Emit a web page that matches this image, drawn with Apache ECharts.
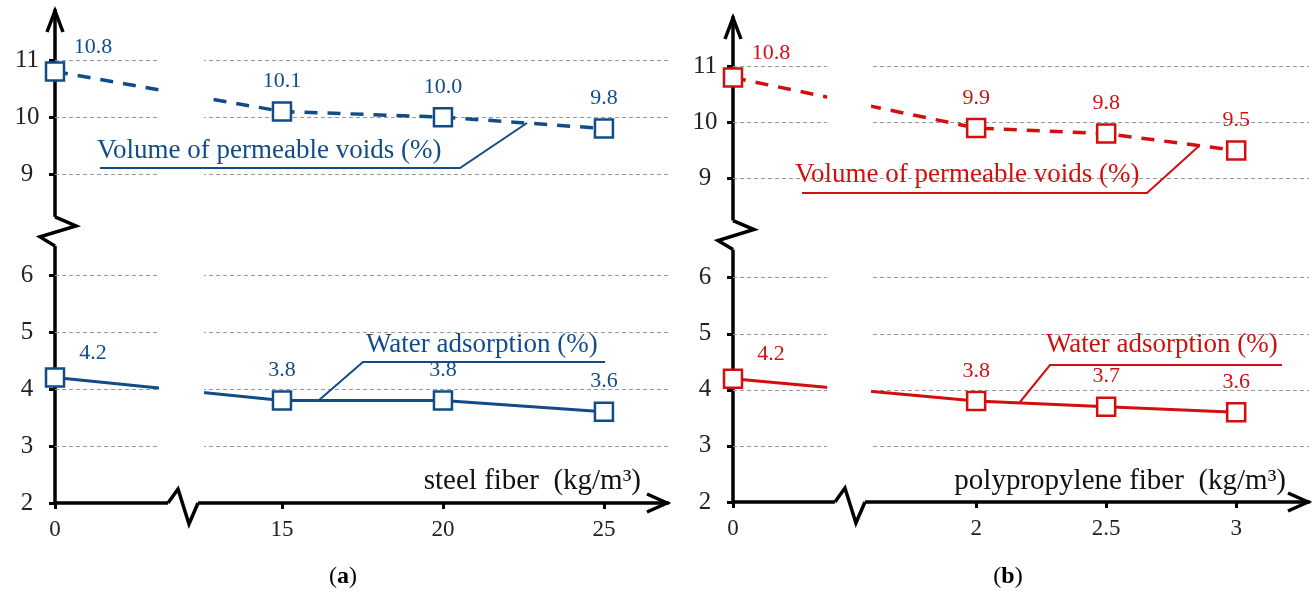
<!DOCTYPE html>
<html>
<head>
<meta charset="utf-8">
<script src="https://cdn.jsdelivr.net/npm/echarts@6/dist/echarts.min.js"></script>
<style>
  html, body { margin: 0; padding: 0; background: #fff; }
  #chart { width: 1315px; height: 592px; }
</style>
</head>
<body>
<div id="chart"></div>
<script>
// data
const FIBER_A = [0, 15, 20, 25];          // steel fiber, kg/m3
const VOIDS_A = [10.8, 10.1, 10.0, 9.8];
const WATER_A = [4.2, 3.8, 3.8, 3.6];
const FIBER_B = [0, 2, 2.5, 3];           // polypropylene fiber, kg/m3
const VOIDS_B = [10.8, 9.9, 9.8, 9.5];
const WATER_B = [4.2, 3.8, 3.7, 3.6];
const Y_TICKS = [2, 3, 4, 5, 6, 9, 10, 11];
const Y_GRID = [3, 4, 5, 6, 9, 10, 11];

const FONT = "'Liberation Serif', 'Times New Roman', serif";
const BLUE = '#124c88';
const RED = '#d10f0f';

// broken axes: 7..8 cut out of y, and the stretch before the first dose cut out of x
const ymap = v => (v >= 9 ? v - 1.23 : v);
const Y_MAX = 10.65;

const PANELS = [
  {
    grid: { left: 55, top: 10, right: 647, bottom: 89 },
    xmap: x => (x === 0 ? 0 : x - 7.95), xMax: 19.04,
    gap: [3.23, 4.63], zigX: 3.51,
    fiber: FIBER_A, voids: VOIDS_A, water: WATER_A, color: BLUE
  },
  {
    grid: { left: 733, top: 17, right: 6, bottom: 90 },
    xmap: x => (x === 0 ? 0 : x - 1.065), xMax: 2.215,
    gap: [0.362, 0.531], zigX: 0.392,
    fiber: FIBER_B, voids: VOIDS_B, water: WATER_B, color: RED
  }
];

function lookup(pos, ticks, map) {
  for (let i = 0; i < ticks.length; i++) {
    if (Math.abs(map(ticks[i]) - pos) < 1e-6) return String(ticks[i]);
  }
  return '';
}

let chart = echarts.init(document.getElementById('chart'), null, { renderer: 'canvas' });

let grids = [], xAxes = [], yAxes = [], series = [];
PANELS.forEach((p, i) => {
  grids.push(Object.assign({ containLabel: false, outerBoundsMode: 'none' }, p.grid));
  const xPos = p.fiber.map(p.xmap);
  xAxes.push({
    gridIndex: i, type: 'value', min: 0, max: p.xMax,
    axisLine: { show: true, onZero: false, lineStyle: { color: '#000', width: 3.5 } },
    axisTick: { show: true, customValues: xPos, length: 6, lineStyle: { color: '#000', width: 3 } },
    axisLabel: {
      customValues: xPos, margin: 15, fontSize: 23, fontFamily: FONT, color: '#222',
      formatter: v => lookup(v, p.fiber, p.xmap)
    },
    splitLine: { show: false }
  });
  const yPos = Y_TICKS.map(ymap);
  yAxes.push({
    gridIndex: i, type: 'value', min: 2, max: Y_MAX,
    axisLine: { show: true, onZero: false, lineStyle: { color: '#000', width: 3.5 } },
    axisTick: { show: true, customValues: yPos, length: 6, lineStyle: { color: '#000', width: 3 } },
    axisLabel: {
      customValues: yPos, margin: 28, align: 'center', fontSize: 25, fontFamily: FONT, color: '#222',
      formatter: v => lookup(v, Y_TICKS, ymap)
    },
    splitLine: { show: false }
  });

  const mkLabel = (vals) => ({
    show: true, position: 'top', distance: 9, fontSize: 22, fontFamily: FONT, color: p.color,
    formatter: prm => vals[prm.dataIndex].toFixed(1)
  });
  const mkData = (vals) => p.fiber.map((x, k) => {
    const d = { value: [p.xmap(x), ymap(vals[k])] };
    if (k === 0) d.label = { offset: [38, 6] };
    return d;
  });
  const common = {
    type: 'line', xAxisIndex: i, yAxisIndex: i, symbol: 'rect', symbolSize: 18,
    itemStyle: { color: '#fff', borderColor: p.color, borderWidth: 2.5 },
    animation: false, silent: true
  };
  series.push(Object.assign({}, common, {
    name: 'voids' + i,
    data: mkData(p.voids),
    lineStyle: { color: p.color, width: 3.5, type: [13, 10] },
    label: mkLabel(p.voids)
  }));
  series.push(Object.assign({}, common, {
    name: 'water' + i,
    data: mkData(p.water),
    lineStyle: { color: p.color, width: 3 },
    label: mkLabel(p.water),
    markLine: {
      silent: true, z: 1, symbol: ['none', 'none'], animation: false,
      label: { show: false },
      lineStyle: { color: '#9a9a9a', type: [4, 3], width: 1 },
      data: Y_GRID.map(t => ({ yAxis: ymap(t) }))
    }
  }));
});

chart.setOption({
  animation: false,
  grid: grids,
  xAxis: xAxes,
  yAxis: yAxes,
  series: series
});

// decorations: axis breaks, arrow heads, annotations
function buildGraphic() {
  let els = [];
  const white = (x, y, w, h) => ({ type: 'rect', z: 50, silent: true, shape: { x, y, width: w, height: h }, style: { fill: '#fff' } });
  const pline = (pts, color, w, z) => ({
    type: 'polyline', z: z || 60, silent: true, shape: { points: pts },
    style: { stroke: color, lineWidth: w, fill: null, lineJoin: 'miter' }
  });
  const text = (x, y, str, color, size, align) => ({
    type: 'text', z: 70, silent: true, x, y,
    style: { text: str, fill: color, font: size + 'px ' + FONT, align: align || 'left', verticalAlign: 'middle' }
  });

  PANELS.forEach((p, i) => {
    const px = v => chart.convertToPixel({ gridIndex: i }, v);
    const [ox, oy] = px([0, 2]);
    const xr = px([p.xMax, 2])[0];
    const yt = px([0, Y_MAX])[1];
    const g0 = px([p.gap[0], 2])[0], g1 = px([p.gap[1], 2])[0];
    els.push(white(g0, yt, g1 - g0, oy - 3 - yt));
    const zx = px([p.zigX, 2])[0];
    els.push(white(zx, oy - 3, 30, 6));
    els.push(pline([[zx, oy], [zx + 10, oy - 14], [zx + 21, oy + 21], [zx + 30, oy]], '#000', 3.5));
    const zy = px([0, 7.02])[1];
    els.push(white(ox - 3, zy, 6, 29));
    els.push(pline([[ox, zy], [ox + 21, zy + 9], [ox - 15, zy + 20], [ox, zy + 29]], '#000', 3.5));
    els.push(pline([[ox - 8, yt + 22], [ox, yt + 1], [ox + 8, yt + 22]], '#000', 3.5));
    els.push(pline([[xr - 21, oy - 9], [xr - 1, oy], [xr - 21, oy + 9]], '#000', 3.5));
  });

  // panel (a)
  els.push(text(97, 151, 'Volume of permeable voids (%)', BLUE, 27));
  els.push(pline([[100, 168], [460, 168], [527, 123]], BLUE, 2, 65));
  els.push(text(366, 345, 'Water adsorption (%)', BLUE, 27));
  els.push(pline([[318, 401], [363, 362], [605, 362]], BLUE, 2, 65));
  els.push(text(641, 481, 'steel fiber  (kg/m\u00b3)', '#111', 29, 'right'));
  // panel (b)
  els.push(text(795, 175, 'Volume of permeable voids (%)', RED, 27));
  els.push(pline([[802, 193], [1147, 193], [1199, 146]], RED, 2, 65));
  els.push(text(1046, 345, 'Water adsorption (%)', RED, 27));
  els.push(pline([[1020, 402], [1050, 365], [1282, 365]], RED, 2, 65));
  els.push(text(1286, 481, 'polypropylene fiber  (kg/m\u00b3)', '#111', 29, 'right'));

  // captions
  ['a', 'b'].forEach((c, k) => {
    els.push({
      type: 'text', z: 70, silent: true, x: k === 0 ? 343 : 1008, y: 577,
      style: {
        text: '({b|' + c + '})', fill: '#000', font: '24px ' + FONT,
        align: 'center', verticalAlign: 'middle',
        rich: { b: { fontWeight: 'bold', fontSize: 24, fontFamily: FONT, fill: '#000' } }
      }
    });
  });
  return els;
}

chart.setOption({ graphic: { elements: buildGraphic() } });
</script>
</body>
</html>
